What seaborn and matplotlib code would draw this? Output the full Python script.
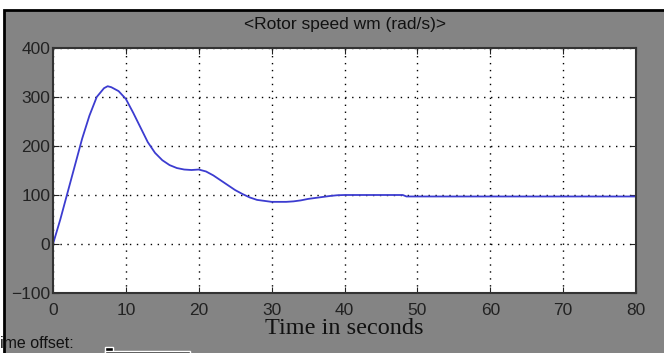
import matplotlib
matplotlib.use("Agg")
import matplotlib.pyplot as plt
from matplotlib.patches import Rectangle
import seaborn as sns
import pandas as pd

# rotor speed
time_s = [0, 1, 2, 3, 4, 5, 6, 7, 7.5, 8, 9, 10, 11, 12, 13, 14, 15, 16, 17,
          18, 19, 20, 21, 22, 23, 24, 25, 26, 27, 28, 29, 30, 31, 32, 33, 34,
          35, 36, 37, 38, 39, 40, 45, 48, 48.5, 60, 70, 80]
speed = [0, 50, 105, 160, 215, 262, 300, 318, 322, 320, 312, 296, 268, 238,
         208, 186, 171, 161, 155, 152, 151, 152, 148, 140, 130, 120, 110, 102,
         95, 90, 88, 86, 86, 86, 87, 89, 92, 94, 96, 98, 99.5, 100, 100, 100,
         97, 97, 97, 97]
x_ticks = [0, 10, 20, 30, 40, 50, 60, 70, 80]
y_ticks = [-100, 0, 100, 200, 300, 400]

df = pd.DataFrame({"t": time_s, "wm": speed})

sns.set_style("ticks")
plt.rcParams["font.family"] = ["Liberation Sans", "DejaVu Sans"]

fig = plt.figure(figsize=(6.64, 3.53), dpi=100, facecolor="white")
# scope window background
fig.add_artist(Rectangle((4 / 664, -0.1), 1.0, 1 - 10 / 353 + 0.1,
                         transform=fig.transFigure, facecolor="#848484",
                         edgecolor="black", linewidth=2.0, zorder=0))
ax = fig.add_axes([53 / 664, 1 - 293 / 353, 583 / 664, 245 / 353])

sns.lineplot(data=df, x="t", y="wm", ax=ax, color="#3c3cd0", linewidth=1.3)

ax.set_xlim(0, 80)
ax.set_ylim(-100, 400)
ax.set_xticks(x_ticks)
ax.set_yticks(y_ticks)
ax.tick_params(direction="in", top=True, right=True, length=4, labelsize=12.5,
               colors="#222222", pad=2)
ax.tick_params(axis="x", pad=7)
ax.grid(True, color="black", linestyle=(0, (1, 4)), linewidth=1.0)
for sp in ax.spines.values():
    sp.set_color("#333333")
    sp.set_linewidth(1.5)
ax.set_facecolor("white")

ax.set_title("<Rotor speed wm (rad/s)>", fontsize=12.5, color="#111111", pad=14)
ax.set_xlabel("Time in seconds", fontsize=17.5, family=["Liberation Serif"],
              color="#111111", labelpad=0)
ax.set_ylabel("")

fig.text(0.0, 2 / 353, "ime offset:", fontsize=11.5, color="#111111", va="bottom")
fig.add_artist(Rectangle((105 / 664, 0), 8 / 664, 6 / 353,
                         transform=fig.transFigure, facecolor="black"))
fig.add_artist(Rectangle((105 / 664, 0), 85 / 664, 2 / 353,
                         transform=fig.transFigure, facecolor="black"))

fig.savefig("out.png", dpi=100, facecolor=fig.get_facecolor())
